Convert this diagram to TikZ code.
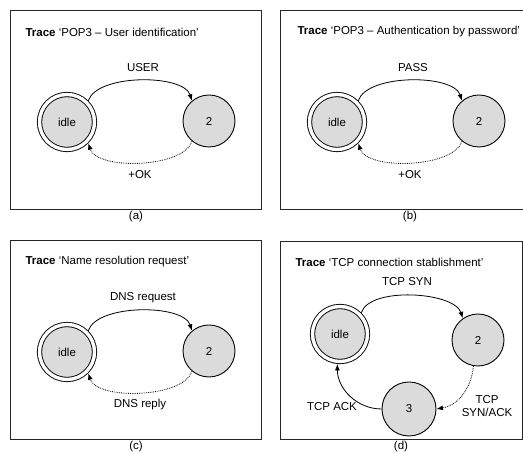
\documentclass[tikz,border=0pt]{standalone}
\usepackage{fontspec}
\setmainfont{Liberation Sans}
\usepackage{xcolor}
\usepackage{tikz}
\usetikzlibrary{arrows.meta}

\begin{document}
\begin{tikzpicture}[x=1pt, y=1pt, >={Latex[length=6.5pt, width=5pt]},
        font=\fontsize{11.5}{13}\selectfont,
        panel/.style={draw=black!85, line width=0.9pt},
        state/.style={circle, draw, fill=black!14, line width=0.9pt, minimum size=52pt, inner sep=0pt},
        startstate/.style={state, double, double distance=3.4pt, minimum size=55pt, outer sep=2.6pt},
        title/.style={anchor=west},
        fwd/.style={->, line width=0.8pt},
        back/.style={->, densely dotted, line width=0.8pt},
    ]
    \useasboundingbox (0,0) rectangle (523,454);
    \clip (0,0) rectangle (523,454);

    % Panel (a)
    \draw[panel] (10,444) rectangle (261,245);
    \node[title] (titleA) at (22,422) {\textbf{Trace} ‘POP3 – User identification’};
    \node[startstate] (idleA) at (67,332) {idle};
    \node[state] (twoA) at (209,333) {2};
    \node (userA) at (143,386) {USER};
    \node (okA) at (140,279) {+OK};
    \draw[fwd] (idleA.45) to[out=72, in=108, looseness=0.7] (twoA.130);
    \draw[back] (twoA.-130) to[out=-108, in=-72, looseness=0.7] (idleA.-45);
    \node (capA) at (136,237) {(a)};

    % Panel (b)
    \draw[panel] (280,444) rectangle (545,245);
    \node[title] (titleB) at (294,422) {\textbf{Trace} ‘POP3 – Authentication by password’};
    \node[startstate] (idleB) at (337,332) {idle};
    \node[state] (twoB) at (479,333) {2};
    \node (passB) at (413,386) {PASS};
    \node (okB) at (410,279) {+OK};
    \draw[fwd] (idleB.45) to[out=72, in=108, looseness=0.7] (twoB.130);
    \draw[back] (twoB.-130) to[out=-108, in=-72, looseness=0.7] (idleB.-45);
    \node (capB) at (410,237) {(b)};

    % Panel (c)
    \draw[panel] (10,214) rectangle (261,15);
    \node[title] (titleC) at (22,192) {\textbf{Trace} ‘Name resolution request’};
    \node[startstate] (idleC) at (67,102) {idle};
    \node[state] (twoC) at (209,103) {2};
    \node (reqC) at (143,156) {DNS request};
    \node (repC) at (140,49) {DNS reply};
    \draw[fwd] (idleC.45) to[out=72, in=108, looseness=0.7] (twoC.130);
    \draw[back] (twoC.-130) to[out=-108, in=-72, looseness=0.7] (idleC.-45);
    \node (capC) at (136,7) {(c)};

    % Panel (d)
    \draw[panel] (280,213) rectangle (522,15);
    \node[title] (titleD) at (292,192) {\textbf{Trace} ‘TCP connection stablishment’};
    \node[startstate] (idleD) at (340,120) {idle};
    \node[state] (twoD) at (478,114) {2};
    \node[state, minimum size=54pt] (threeD) at (409,45) {3};
    \node (synD) at (407,172) {TCP SYN};
    \node[align=center] (synackD) at (487,48) {TCP\\SYN/ACK};
    \node (ackD) at (332,47) {TCP ACK};
    \draw[fwd] (idleD.45) to[out=72, in=108, looseness=0.7] (twoD.125);
    \draw[back] (twoD.-100) to[out=-95, in=10] (threeD.0);
    \draw[fwd] (threeD.180) to[out=180, in=-90] (idleD.-95);
    \node (capD) at (401,7) {(d)};

\end{tikzpicture}
\end{document}
